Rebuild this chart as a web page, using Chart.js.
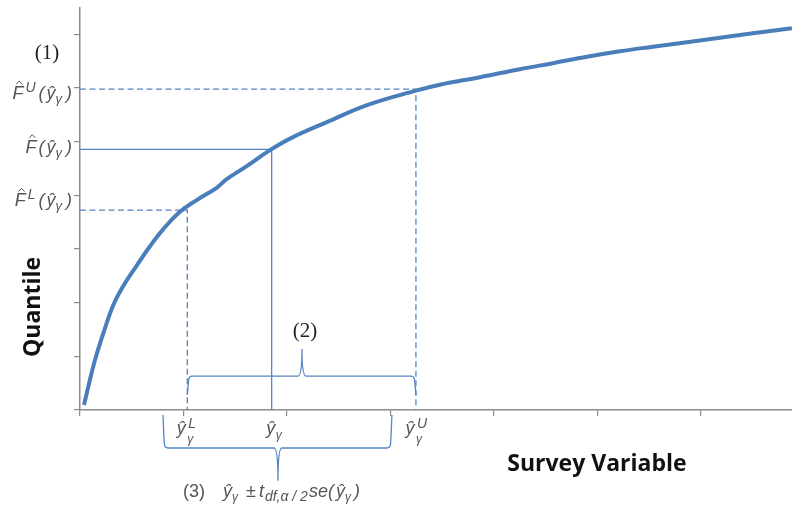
<!DOCTYPE html>
<html>
<head>
<meta charset="utf-8">
<script src="https://cdn.jsdelivr.net/npm/chart.js@4.4.1/dist/chart.umd.min.js"></script>
<style>
  html, body { margin: 0; padding: 0; background: #fff; }
  #wrap { width: 792px; height: 506px; }
</style>
</head>
<body>
<div id="wrap"><canvas id="chart"></canvas></div>
<script>
// Fitted curve: survey variable (x) vs quantile (y)
const curveX = [0.39, 0.80, 1.45, 2.25, 3.22, 4.18, 5.48, 6.76, 8.05, 9.66, 11.28, 13.21, 14.17,
                16.11, 18.36, 20.58, 23.86, 27.73, 32.46, 34.78, 38.65, 42.51, 45.70, 48.99,
                52.17, 55.36, 58.65, 61.84, 65.02, 68.79];
const curveY = [0.93, 4.34, 9.31, 14.28, 19.55, 23.10, 26.90, 30.50, 33.70, 36.93, 39.11, 41.40, 43.00,
                45.44, 48.42, 50.84, 53.63, 56.80, 59.50, 60.61, 62.01, 63.50, 64.62, 65.83,
                66.85, 67.69, 68.53, 69.37, 70.20, 71.14];

// Point estimate and its bounds
const yHatL = 10.37, yHat = 18.52, yHatU = 32.46;
const fL = 37.24, fMid = 48.55, fU = 59.78;

// y ticks the F labels sit on (upper, estimate, lower)
const fLabelTicks = [60, 50, 40];
const labelOneY = 66.7;

// braces: [start x, end x, tip x, end y, level y, tip y]
const braceTwo = [10.37, 32.46, 21.45, 2.79, 6.33, 11.36];
const braceThree = [8.02, 30.14, 19.13, -0.93, -7.08, -13.2];

const xMax = 68.8, yMax = 74.9, tickStep = 10;

const BLUE = '#4A7EBB';
const THIN = '#5585C2';
const AXIS = '#8C8C8C';
const MATH = '"Liberation Sans", Arial, sans-serif';
const TEXT = '#555555';

function part(t, o) {
    return Object.assign({ t: t, size: 18, dy: 0, it: true, gap: 0 }, o || {});
}

function fontOf(p) {
    return (p.it ? 'italic ' : '') + p.size + 'px ' + (p.fam || MATH);
}

// draw a row of text pieces (sup/sub/hat) starting at x, baseline y
function drawRich(ctx, parts, x, y, align) {
    let w = 0;
    parts.forEach(p => {
        ctx.font = fontOf(p);
        p.w = ctx.measureText(p.t).width + p.gap;
        w += p.w;
    });
    let cx = align === 'right' ? x - w : align === 'center' ? x - w / 2 : x;
    parts.forEach(p => {
        ctx.font = fontOf(p);
        ctx.fillText(p.t, cx, y + p.dy);
        if (p.hat) {
            const hw = p.w - p.gap;
            ctx.save();
            ctx.strokeStyle = ctx.fillStyle;
            ctx.lineWidth = 1;
            ctx.beginPath();
            ctx.moveTo(cx + hw * 0.35, y - p.size * 0.82);
            ctx.lineTo(cx + hw * 0.62, y - p.size * 1.0);
            ctx.lineTo(cx + hw * 0.89, y - p.size * 0.82);
            ctx.stroke();
            ctx.restore();
        }
        cx += p.w;
    });
}

function drawBrace(ctx, xs, ys, b) {
    const x0 = xs.getPixelForValue(b[0]), x1 = xs.getPixelForValue(b[1]), xt = xs.getPixelForValue(b[2]);
    const ye = ys.getPixelForValue(b[3]), yl = ys.getPixelForValue(b[4]), yt = ys.getPixelForValue(b[5]);
    const dir = Math.sign(yt - yl);
    const r = 5;
    ctx.beginPath();
    ctx.moveTo(x0, ye);
    ctx.quadraticCurveTo(x0 + 1, yl - dir * r * 1.5, x0 + 1.5, yl - dir * r * 0.6);
    ctx.quadraticCurveTo(x0 + 2, yl, x0 + r, yl);
    ctx.lineTo(xt - 4, yl);
    ctx.quadraticCurveTo(xt, yl, xt, yt);
    ctx.quadraticCurveTo(xt, yl, xt + 4, yl);
    ctx.lineTo(x1 - r, yl);
    ctx.quadraticCurveTo(x1 - 2, yl, x1 - 1.5, yl - dir * r * 0.6);
    ctx.quadraticCurveTo(x1 - 1, yl - dir * r * 1.5, x1, ye);
    ctx.stroke();
}

const overlay = {
    id: 'overlay',
    afterDraw(chart) {
        const ctx = chart.ctx;
        const xs = chart.scales.x, ys = chart.scales.y;
        const left = chart.chartArea.left, bottom = chart.chartArea.bottom;
        ctx.save();

        // braces
        ctx.strokeStyle = THIN;
        ctx.lineWidth = 1.3;
        drawBrace(ctx, xs, ys, braceTwo);
        drawBrace(ctx, xs, ys, braceThree);

        ctx.textBaseline = 'alphabetic';
        ctx.fillStyle = TEXT;

        // F labels on the y axis
        const sups = ['U', '', 'L'];
        fLabelTicks.forEach((v, i) => {
            const py = ys.getPixelForValue(v) + 11;
            const parts = [part('F', { hat: true, gap: 2 })];
            if (sups[i]) parts.push(part(sups[i], { size: 14, dy: -7, gap: 3 }));
            parts.push(part('(', { gap: 2 }), part('\u0177'), part('\u03B3', { size: 13, dy: 4, gap: 4 }), part(')'));
            drawRich(ctx, parts, left - 8, py, 'right');
        });

        // y-hat labels under the x axis
        const xl = [yHatL, yHat, yHatU];
        const xsup = ['L', '', 'U'];
        xl.forEach((v, i) => {
            const px = xs.getPixelForValue(v);
            if (xsup[i]) {
                drawRich(ctx, [part('\u0177')], px - 6, bottom + 24, 'center');
                drawRich(ctx, [part(xsup[i], { size: 14 })], px + 1, bottom + 18, 'left');
                drawRich(ctx, [part('\u03B3', { size: 12 })], px, bottom + 33, 'left');
            } else {
                drawRich(ctx, [part('\u0177')], px - 1, bottom + 24, 'center');
                drawRich(ctx, [part('\u03B3', { size: 12 })], px + 4, bottom + 29, 'left');
            }
        });

        // (3) interval formula
        const x3 = xs.getPixelForValue(braceThree[0]);
        drawRich(ctx, [part('(3)', { it: false, size: 18 })], x3 + 20, bottom + 87, 'left');
        drawRich(ctx, [
            part('\u0177'), part('\u03B3', { size: 12, dy: 4, gap: 8 }),
            part('\u00B1', { it: false, gap: 3 }),
            part('t', { gap: 1 }),
            part('df,\u03B1 / 2', { size: 14, dy: 4, gap: 1 }),
            part('se(', { gap: 2 }), part('\u0177'), part('\u03B3', { size: 12, dy: 4, gap: 3 }), part(')')
        ], x3 + 60, bottom + 87, 'left');

        // numbered notes
        ctx.fillStyle = '#222';
        ctx.font = '21px "Liberation Serif", "Times New Roman", serif';
        ctx.textAlign = 'center';
        ctx.fillText('(1)', left - 33, ys.getPixelForValue(labelOneY) + 7);
        ctx.fillText('(2)', xs.getPixelForValue(braceTwo[2]) + 3, ys.getPixelForValue(braceTwo[5]) - 12);

        // axis titles
        ctx.fillStyle = '#111';
        ctx.font = 'bold 23px "Open Sans", Lato, sans-serif';
        ctx.fillText('Survey Variable', xs.getPixelForValue(49.95), bottom + 61);
        ctx.translate(left - 47, ys.getPixelForValue(19.2));
        ctx.rotate(-Math.PI / 2);
        ctx.textBaseline = 'middle';
        ctx.fillText('Quantile', 0, 0);
        ctx.restore();
    }
};

const refLine = (pts, dash) => ({
    data: pts,
    borderColor: THIN,
    borderWidth: 1.3,
    borderDash: dash,
    pointRadius: 0,
    tension: 0,
    fill: false,
    order: 1
});

new Chart(document.getElementById('chart'), {
    type: 'line',
    data: {
        datasets: [
            {
                data: curveX.map((x, i) => ({ x: x, y: curveY[i] })),
                borderColor: BLUE,
                borderWidth: 4,
                pointRadius: 0,
                tension: 0.4,
                fill: false,
                order: 0
            },
            refLine([{ x: 0, y: fU }, { x: yHatU, y: fU }, { x: yHatU, y: 0 }], [6, 3.5]),
            refLine([{ x: 0, y: fMid }, { x: yHat, y: fMid }, { x: yHat, y: 0 }], []),
            refLine([{ x: 0, y: fL }, { x: yHatL, y: fL }, { x: yHatL, y: 0 }], [6, 3.5])
        ]
    },
    options: {
        responsive: true,
        maintainAspectRatio: false,
        animation: false,
        layout: { padding: { top: 8, left: 0, right: 0, bottom: 0 } },
        plugins: { legend: { display: false }, tooltip: { enabled: false } },
        scales: {
            x: {
                type: 'linear',
                min: 0,
                max: xMax,
                ticks: { display: false, stepSize: tickStep, includeBounds: false },
                grid: { drawOnChartArea: false, drawTicks: true, tickLength: 6, color: AXIS, lineWidth: 1.2 },
                border: { color: AXIS, width: 1.5 },
                afterFit: s => { s.height = 96; }
            },
            y: {
                type: 'linear',
                min: 0,
                max: yMax,
                ticks: { display: false, stepSize: tickStep, includeBounds: false },
                grid: { drawOnChartArea: false, drawTicks: true, tickLength: 6, color: AXIS, lineWidth: 1.2 },
                border: { color: AXIS, width: 1.5 },
                afterFit: s => { s.width = 80; }
            }
        }
    },
    plugins: [overlay]
});
</script>
</body>
</html>
